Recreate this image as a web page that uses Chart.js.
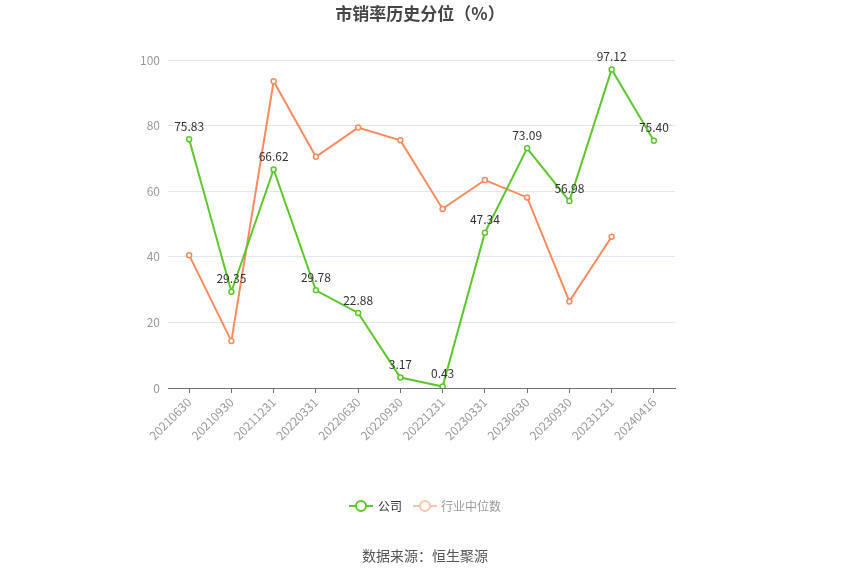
<!DOCTYPE html>
<html lang="zh-CN">

<head>
    <meta charset="UTF-8">
    <script src="https://cdn.jsdelivr.net/npm/chart.js"></script>
    <title>市销率历史分位</title>
    <style>
        html, body { margin: 0; padding: 0; background: #ffffff; }
        #wrap { width: 850px; height: 574px; position: relative; }
    </style>
</head>

<body>
    <div id="wrap"><canvas id="psChart" width="850" height="574"></canvas></div>
</body>

</html>

<script>
    const fonte = '"Noto Sans CJK SC", "Noto Sans", sans-serif'

    const periodos = ['20210630', '20210930', '20211231', '20220331', '20220630', '20220930',
        '20221231', '20230331', '20230630', '20230930', '20231231', '20240416']
    const valoresEmpresa = [75.83, 29.35, 66.62, 29.78, 22.88, 3.17, 0.43, 47.34, 73.09, 56.98, 97.12, 75.40]
    const valoresIndustria = [40.5, 14.3, 93.5, 70.5, 79.4, 75.5, 54.6, 63.4, 58.1, 26.4, 46.1, null]
    const ticksY = [0, 20, 40, 60, 80, 100]

    const verde = '#5cc72c'
    const laranja = '#f98b5e'

    // rotulos de valor da serie verde + titulo, legenda e fonte
    const extras = {
        id: 'extras',
        afterDatasetsDraw(chart) {
            const ctx = chart.ctx
            const meta = chart.getDatasetMeta(0)
            ctx.save()
            ctx.font = '12px ' + fonte
            ctx.fillStyle = '#333333'
            ctx.textAlign = 'center'
            ctx.textBaseline = 'bottom'
            meta.data.forEach((pt, i) => {
                ctx.fillText(valoresEmpresa[i].toFixed(2), pt.x, pt.y - 7)
            })
            ctx.restore()
        },
        afterDraw(chart) {
            const ctx = chart.ctx
            ctx.save()
            ctx.textBaseline = 'middle'

            ctx.font = 'bold 17px ' + fonte
            ctx.fillStyle = '#464646'
            ctx.textAlign = 'center'
            ctx.fillText('市销率历史分位（%）', 420, 14)

            // legenda
            const y = 506
            desenharIcone(ctx, 349, y, verde)
            ctx.font = '12px ' + fonte
            ctx.textAlign = 'left'
            ctx.fillStyle = '#333333'
            ctx.fillText('公司', 378, y)
            desenharIcone(ctx, 413, y, '#fcc3ab')
            ctx.fillStyle = '#999999'
            ctx.fillText('行业中位数', 441, y)

            ctx.font = '14px ' + fonte
            ctx.textAlign = 'center'
            ctx.fillStyle = '#555555'
            ctx.fillText('数据来源：恒生聚源', 425, 556)
            ctx.restore()
        }
    }

    function desenharIcone(ctx, x, y, cor) {
        ctx.strokeStyle = cor
        ctx.lineWidth = 2
        ctx.beginPath()
        ctx.moveTo(x, y)
        ctx.lineTo(x + 24, y)
        ctx.stroke()
        ctx.beginPath()
        ctx.arc(x + 12, y, 5, 0, Math.PI * 2)
        ctx.fillStyle = '#ffffff'
        ctx.fill()
        ctx.stroke()
    }

    new Chart(psChart, {
        type: 'line',
        data: {
            labels: periodos,
            datasets: [{
                label: '公司',
                data: valoresEmpresa,
                borderColor: verde,
                backgroundColor: '#ffffff',
                borderWidth: 2,
                pointRadius: 2.5,
                pointBorderWidth: 1.5,
                pointBackgroundColor: '#ffffff',
                tension: 0
            }, {
                label: '行业中位数',
                data: valoresIndustria,
                borderColor: laranja,
                backgroundColor: '#ffffff',
                borderWidth: 2,
                pointRadius: 2.5,
                pointBorderWidth: 1.5,
                pointBackgroundColor: '#ffffff',
                tension: 0
            }]
        },
        options: {
            responsive: false,
            animation: false,
            layout: { padding: { left: 128, right: 175, top: 60, bottom: 0 } },
            plugins: {
                legend: { display: false },
                title: { display: false },
                tooltip: { enabled: false }
            },
            scales: {
                x: {
                    offset: true,
                    afterFit: (scale) => { scale.height = 186 },
                    grid: {
                        offset: false,
                        drawOnChartArea: false,
                        drawTicks: true,
                        tickLength: 5,
                        color: '#6e7079'
                    },
                    border: { display: true, color: '#6e7079', width: 1 },
                    ticks: {
                        minRotation: 45,
                        maxRotation: 45,
                        autoSkip: false,
                        padding: 2,
                        color: '#9a9a9a',
                        font: { family: fonte, size: 12 }
                    }
                },
                y: {
                    min: 0,
                    max: 100,
                    afterFit: (scale) => { scale.width = 40 },
                    afterBuildTicks: (scale) => { scale.ticks = ticksY.map(v => ({ value: v })) },
                    grid: { color: '#e0e6f1', drawTicks: false },
                    border: { display: false },
                    ticks: {
                        padding: 8,
                        color: '#9a9a9a',
                        font: { family: fonte, size: 12 }
                    }
                }
            }
        },
        plugins: [extras]
    });
</script>
